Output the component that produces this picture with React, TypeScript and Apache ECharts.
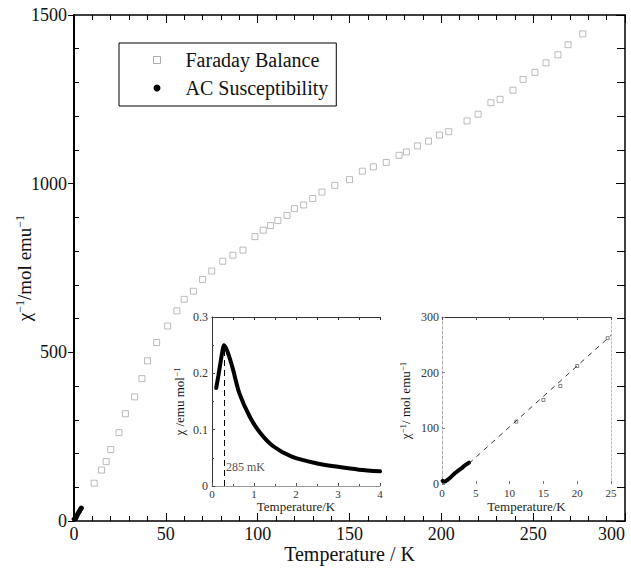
import React, { useEffect, useRef } from 'react';
import * as echarts from 'echarts';

const FONT = '"Liberation Serif", "Times New Roman", serif';

// Faraday balance: inverse susceptibility (mol emu^-1) vs temperature (K)
const farT = [11, 15, 17.5, 20, 24.5, 28, 33, 37, 40, 45, 51, 56, 60, 65, 70, 75, 81, 86.5, 92, 98.5, 103, 107, 111, 116, 120, 125, 130, 135, 142, 150, 157, 163, 170, 177, 181, 187, 193, 199, 204, 214, 220, 227, 232, 239, 244.5, 251, 257, 263.5, 269, 277];
const farChi = [112, 151, 176, 212, 262, 318, 368, 422, 475, 529, 578, 623, 657, 681, 716, 741, 770, 788, 803, 843, 862, 876, 891, 906, 926, 937, 956, 975, 995, 1012, 1037, 1050, 1063, 1084, 1094, 1112, 1126, 1144, 1154, 1186, 1206, 1240, 1250, 1277, 1309, 1330, 1358, 1382, 1412, 1444];

// AC susceptibility: chi (emu mol^-1) vs temperature (K)
const acT = [0.1, 0.15, 0.2, 0.25, 0.285, 0.33, 0.4, 0.5, 0.65, 0.9, 1.15, 1.45, 1.9, 2.5, 3.0, 3.5, 4.0];
const acChi = [0.174, 0.195, 0.218, 0.24, 0.25, 0.245, 0.232, 0.207, 0.165, 0.123, 0.094, 0.071, 0.052, 0.040, 0.034, 0.029, 0.026];
const acInv = acChi.map((c) => 1 / c);

// Curie-Weiss fit line (inset 2)
const fitT = [4, 25];
const fitChi = [37, 267];

const peakT = 0.285;
const peakChi = 0.25;
const peakLabel = '285 mK';

const mainXTicks = { min: 0, max: 300, interval: 50 };
const mainYTicks = { min: 0, max: 1500, interval: 500 };

export default function App() {
  const ref = useRef<HTMLDivElement>(null);
  useEffect(() => {
    const chart = echarts.init(ref.current!, null, { renderer: 'svg' });
    const black = '#000';
    const txt = (size: number, extra: any = {}) => ({ fontFamily: FONT, fontSize: size, color: '#111', ...extra });
    const tickLabel = (size: number, color: string, margin: number, extra: any = {}) => ({
      fontFamily: FONT, fontSize: size, color, margin,
      formatter: (v: number) => '{t|' + String(v) + '}',
      rich: { t: { fontFamily: FONT, fontSize: size, color } },
      ...extra,
    });
    const sup = (big: number, small: number, pad: number) => ({
      a: { fontFamily: FONT, fontSize: big, color: '#111' },
      s: { fontFamily: FONT, fontSize: small, color: '#111', padding: [0, 0, pad, 0] },
    });

    const farData = farT.map((t, i) => [t, farChi[i]]);
    const option: any = {
      animation: false,
      backgroundColor: '#fff',
      textStyle: { fontFamily: FONT },
      grid: [
        { left: 74, top: 15, width: 551, height: 510 },
        { left: 212, top: 317, width: 168, height: 169 },
        { left: 442, top: 317, width: 169, height: 167 },
      ],
      legend: {
        orient: 'vertical',
        left: 119,
        top: 43,
        selectedMode: false,
        borderColor: black,
        borderWidth: 1,
        padding: [7, 8, 8, 34],
        itemWidth: 7,
        itemHeight: 7,
        itemGap: 8,
        textStyle: { ...txt(20), padding: [0, 0, 0, 20], lineHeight: 20 },
        data: [
          { name: 'Faraday Balance', icon: 'rect', itemStyle: { color: 'rgba(0,0,0,0)', borderColor: '#999', borderWidth: 1 } },
          { name: 'AC Susceptibility', icon: 'circle', itemStyle: { color: black } },
        ],
      },
      xAxis: [
        {
          gridIndex: 0, type: 'value', ...mainXTicks, position: 'bottom',
          axisLine: { onZero: false, lineStyle: { color: black, width: 1.5 } },
          axisTick: { inside: true, length: 8, lineStyle: { color: black } },
          minorTick: { show: true, splitNumber: 5, length: 5, lineStyle: { color: black } },
          splitLine: { show: false },
          axisLabel: tickLabel(18, '#111', 4, { alignMaxLabel: 'right' }),
          name: 'Temperature / K', nameLocation: 'middle', nameGap: 23, nameMoveOverlap: false,
          nameTextStyle: txt(20),
        },
        {
          gridIndex: 0, type: 'value', ...mainXTicks, position: 'top',
          axisLine: { onZero: false, lineStyle: { color: black, width: 1.5 } },
          axisTick: { inside: true, length: 8, lineStyle: { color: black } },
          minorTick: { show: true, splitNumber: 5, length: 5, lineStyle: { color: black } },
          splitLine: { show: false },
          axisLabel: { show: false },
        },
        {
          gridIndex: 1, type: 'value', min: 0, max: 4, interval: 1, position: 'bottom',
          axisLine: { onZero: false, lineStyle: { color: '#999', width: 1 } },
          axisTick: { inside: true, length: 3, lineStyle: { color: '#555' } },
          minorTick: { show: true, splitNumber: 2, length: 2, lineStyle: { color: '#555' } },
          splitLine: { show: false },
          axisLabel: tickLabel(11, '#333', 2),
          name: 'Temperature/K', nameLocation: 'middle', nameGap: 14, nameMoveOverlap: false,
          nameTextStyle: txt(13, { color: '#222' }),
        },
        {
          gridIndex: 1, type: 'value', min: 0, max: 4, interval: 1, position: 'top',
          axisLine: { onZero: false, lineStyle: { color: '#333', width: 1 } },
          axisTick: { inside: true, length: 3, lineStyle: { color: '#333' } },
          minorTick: { show: true, splitNumber: 2, length: 3, lineStyle: { color: '#333' } },
          splitLine: { show: false },
          axisLabel: { show: false },
        },
        {
          gridIndex: 2, type: 'value', min: 0, max: 25, interval: 5, position: 'bottom',
          axisLine: { show: false, onZero: false },
          axisTick: { inside: true, length: 3, lineStyle: { color: '#777' } },
          splitLine: { show: false },
          axisLabel: tickLabel(11, '#333', 3),
          name: 'Temperature/K', nameLocation: 'middle', nameGap: 16, nameMoveOverlap: false,
          nameTextStyle: txt(13, { color: '#222' }),
        },
        {
          gridIndex: 2, type: 'value', min: 0, max: 25, interval: 5, position: 'top',
          axisLine: { onZero: false, lineStyle: { color: '#333', width: 1 } },
          axisTick: { inside: true, length: 3, lineStyle: { color: '#555' } },
          splitLine: { show: false },
          axisLabel: { show: false },
        },
      ],
      yAxis: [
        {
          gridIndex: 0, type: 'value', ...mainYTicks, position: 'left',
          axisLine: { onZero: false, lineStyle: { color: black, width: 2 } },
          axisTick: { inside: false, length: 6, lineStyle: { color: black } },
          minorTick: { show: true, splitNumber: 5, length: -5, lineStyle: { color: black } },
          splitLine: { show: false },
          axisLabel: tickLabel(18, '#111', 7),
          name: '{a|χ}{s|−1}{a|/mol emu}{s|−1}', nameLocation: 'middle', nameGap: 39, nameMoveOverlap: false,
          nameTextStyle: { ...txt(19), rich: sup(19, 12, 9) },
        },
        {
          gridIndex: 0, type: 'value', ...mainYTicks, position: 'right',
          axisLine: { onZero: false, lineStyle: { color: black, width: 1.5 } },
          axisTick: { inside: true, length: 9, lineStyle: { color: black } },
          minorTick: { show: true, splitNumber: 5, length: 8, lineStyle: { color: black } },
          splitLine: { show: false },
          axisLabel: { show: false },
        },
        {
          gridIndex: 1, type: 'value', min: 0, max: 0.3, interval: 0.1, position: 'left',
          axisLine: { onZero: false, lineStyle: { color: '#333', width: 1 } },
          axisTick: { inside: true, length: 3, lineStyle: { color: '#444' } },
          minorTick: { show: true, splitNumber: 2, length: 2, lineStyle: { color: '#444' } },
          splitLine: { show: false },
          axisLabel: tickLabel(12, '#333', 4),
          name: '{a|χ /emu mol}{s|−1}', nameLocation: 'middle', nameGap: 25, nameMoveOverlap: false,
          nameTextStyle: { ...txt(13), rich: sup(13, 9, 6) },
        },
        {
          gridIndex: 2, type: 'value', min: 0, max: 300, interval: 100, position: 'left',
          axisLine: { onZero: false, lineStyle: { color: '#aaa', width: 1, type: [3, 2] } },
          axisTick: { inside: true, length: 3, lineStyle: { color: '#888' } },
          splitLine: { show: false },
          axisLabel: tickLabel(12, '#333', 3),
          name: '{a|χ}{s|−1}{a|/ mol emu}{s|−1}', nameLocation: 'middle', nameGap: 29, nameMoveOverlap: false,
          nameTextStyle: { ...txt(13), rich: sup(13, 9, 6) },
        },
        {
          gridIndex: 2, type: 'value', min: 0, max: 300, interval: 100, position: 'right',
          axisLine: { onZero: false, lineStyle: { color: '#bbb', width: 1, type: [2, 2] } },
          axisTick: { show: false },
          splitLine: { show: false },
          axisLabel: { show: false },
        },
      ],
      series: [
        {
          name: 'Faraday Balance', type: 'scatter', xAxisIndex: 0, yAxisIndex: 0,
          symbol: 'rect', symbolSize: 6,
          itemStyle: { color: 'rgba(0,0,0,0)', borderColor: '#aaa', borderWidth: 1 },
          data: farData,
        },
        {
          name: 'AC Susceptibility', type: 'line', xAxisIndex: 0, yAxisIndex: 0,
          showSymbol: false, symbol: 'circle', itemStyle: { color: black },
          lineStyle: { color: black, width: 5, cap: 'round' },
          data: acT.map((t, i) => [t, acInv[i]]),
        },
        {
          name: 'inset-chi', type: 'line', xAxisIndex: 2, yAxisIndex: 2,
          showSymbol: false, smooth: 0.3,
          lineStyle: { color: black, width: 4, cap: 'round' },
          data: acT.map((t, i) => [t, acChi[i]]),
          markLine: {
            silent: true, symbol: ['none', 'none'],
            label: { show: false },
            lineStyle: { color: black, width: 1, type: [6, 4] },
            data: [[{ coord: [peakT, 0] }, { coord: [peakT, peakChi] }]],
          },
        },
        {
          name: 'inset-label', type: 'scatter', xAxisIndex: 2, yAxisIndex: 2,
          symbolSize: 0, silent: true,
          label: { show: true, position: 'right', distance: 2, formatter: peakLabel, ...txt(12, { color: '#222' }) },
          data: [[peakT, 0.034]],
        },
        {
          name: 'inset-inv', type: 'line', xAxisIndex: 4, yAxisIndex: 3,
          showSymbol: false,
          lineStyle: { color: black, width: 4, cap: 'round' },
          data: acT.map((t, i) => [t, acInv[i]]),
        },
        {
          name: 'inset-fit', type: 'line', xAxisIndex: 4, yAxisIndex: 3,
          showSymbol: false,
          lineStyle: { color: '#333', width: 1, type: [5, 5] },
          data: fitT.map((t, i) => [t, fitChi[i]]),
        },
        {
          name: 'inset-far', type: 'scatter', xAxisIndex: 4, yAxisIndex: 3,
          symbol: 'rect', symbolSize: 3,
          itemStyle: { color: 'rgba(0,0,0,0)', borderColor: '#666', borderWidth: 1 },
          data: farData.filter((d) => d[0] <= 25),
        },
      ],
    };
    chart.setOption(option);
    return () => chart.dispose();
  }, []);
  return (
    <div
      ref={ref}
      style={{ position: 'fixed', left: 0, top: 0, width: 631, height: 569, background: '#fff' }}
    />
  );
}
